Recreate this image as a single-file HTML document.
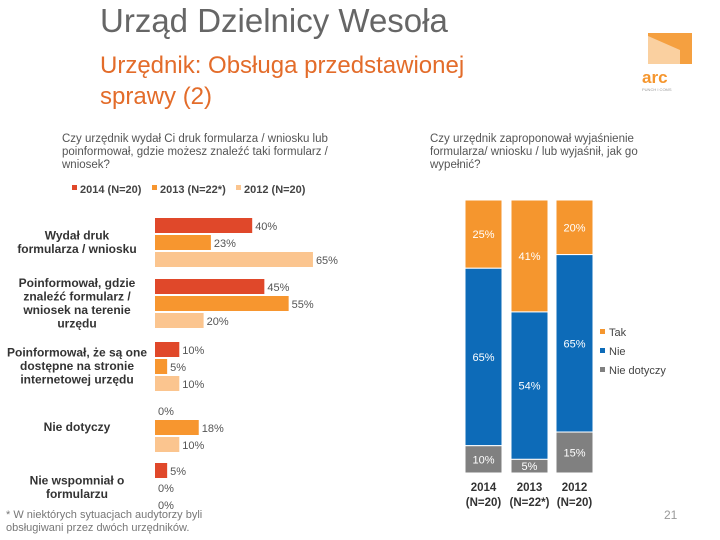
<!DOCTYPE html>
<html><head><meta charset="utf-8"><style>
body{margin:0;width:720px;height:540px;background:#fff;overflow:hidden;font-family:"Liberation Sans",sans-serif;position:relative}
.abs{position:absolute}
.t1{left:100px;top:2px;font-size:33px;color:#666}
.t2{left:100px;top:50px;font-size:24px;color:#e36c2a;line-height:31px}
.q{font-size:11.5px;color:#555;line-height:13px}
</style></head><body>
<div class="abs t1">Urząd Dzielnicy Wesoła</div>
<div class="abs t2">Urzędnik: Obsługa przedstawionej<br>sprawy (2)</div>
<svg class="abs" style="left:636px;top:28px" width="60" height="65">
<path d="M12 5 L56 5 L56 36 L12 36 Z" fill="#f5a040"/><path d="M12 8 L44 22 L44 36 L12 36Z" fill="#fff" opacity=".5"/>
<text x="6" y="55" font-size="17" font-weight="bold" fill="#f5962e" font-family="Liberation Sans">arc</text>
<text x="6" y="63" font-size="4" fill="#999" font-family="Liberation Sans">PUNCH I COMS</text></svg>
<div class="abs q" style="left:62px;top:133px;width:310px">Czy urzędnik wydał Ci druk formularza / wniosku lub poinformował, gdzie możesz znaleźć taki formularz / wniosek?</div>
<div class="abs q" style="left:430px;top:133px;width:222px">Czy urzędnik zaproponował wyjaśnienie formularza/ wniosku / lub wyjaśnił, jak go wypełnić?</div>
<svg class="abs" style="left:0;top:0" width="720" height="540" id="ch" font-family="Liberation Sans"></svg>
<div class="abs q" style="left:6px;top:509px;font-size:11px;color:#777">* W niektórych sytuacjach audytorzy byli<br>obsługiwani przez dwóch urzędników.</div>
<div class="abs" style="left:664px;top:508px;font-size:12px;color:#999">21</div>
<script>
const categories=["Wydał druk\nformularza / wniosku","Poinformował, gdzie\nznaleźć formularz /\nwniosek na terenie\nurzędu","Poinformował, że są one\ndostępne na stronie\ninternetowej urzędu","Nie dotyczy","Nie wspomniał o\nformularzu"];
const seriesNames=["2014 (N=20)","2013 (N=22*)","2012 (N=20)"];
const v2014=[40,45,10,0,5];
const v2013=[23,55,5,18,0];
const v2012=[65,20,10,10,0];
const stackCats=["2014\n(N=20)","2013\n(N=22*)","2012\n(N=20)"];
const stackNames=["Tak","Nie","Nie dotyczy"];
const tak=[25,41,20];
const nie=[65,54,65];
const nd=[10,5,15];
const NS="http://www.w3.org/2000/svg";const svg=document.getElementById('ch');
function mk(t,a,txt){const e=document.createElementNS(NS,t);for(const k in a)e.setAttribute(k,a[k]);if(txt!=null)e.textContent=txt;svg.appendChild(e);return e;}
const cols=["#e0482a","#f7962f","#fbc58f"];
const xs=v=>155+v*2.43;
const groupTop=[218,279,342,403,463];
const series=[v2014,v2013,v2012];
const lx=[72,152,236];
seriesNames.forEach((n,i)=>{
 const r=mk('rect',{x:lx[i],y:185,width:5,height:5,fill:cols[i]});
 
 
 const t=mk('text',{x:lx[i]+8,y:193,'font-size':11,'font-weight':'bold',fill:'#444'},n);
 
 
});
categories.forEach((c,g)=>{
 const lines=c.split('\n');const cy=groupTop[g]+24;
 lines.forEach((l,k)=>{const t=mk('text',{x:77,y:cy+4+(k-(lines.length-1)/2)*13.5,'text-anchor':'middle','font-size':12,'font-weight':'bold',fill:'#333'},l);
  
  });
 series.forEach((s,i)=>{
  const y=groupTop[g]+i*17;const v=s[g];
  if(v>0){const r=mk('rect',{x:155,y:y,width:xs(v)-155,height:15,fill:cols[i]});
   
   }
  const t=mk('text',{x:xs(v)+3,y:y+12,'font-size':11,fill:'#555'},v+'%');
  
  
 });
});
const bx=[465,511,556],bw=37,stackTop=200,H=273;
const sc=["#f5962e","#0d6bb8","#808080"];const stacks=[tak,nie,nd];
stackCats.forEach((c,i)=>{
 let y=stackTop;
 stacks.forEach((s,j)=>{
  const h=s[i]/100*H;
  const r=mk('rect',{x:bx[i],y:y,width:bw,height:h,fill:sc[j],stroke:'#fff','stroke-width':1});
  
  
  const t=mk('text',{x:bx[i]+bw/2,y:y+h/2+4,'text-anchor':'middle','font-size':11,fill:'#fff'},s[i]+'%');
  
  
  y+=h;
 });
 c.split('\n').forEach((l,k)=>{const t=mk('text',{x:bx[i]+bw/2,y:491+k*15,'text-anchor':'middle','font-size':11.5,'font-weight':'bold',fill:'#333'},l);
  
  });
});
stackNames.forEach((n,j)=>{
 const r=mk('rect',{x:600,y:329+j*19,width:5,height:5,fill:sc[j]});
 
 
 const t=mk('text',{x:609,y:336+j*19,'font-size':11,fill:'#444'},n);
 
 
});
</script>
</body></html>
